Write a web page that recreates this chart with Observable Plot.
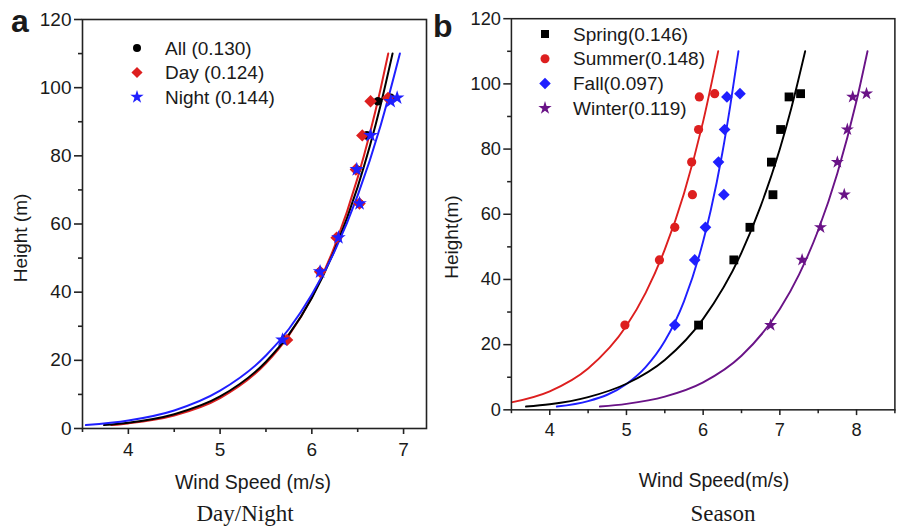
<!DOCTYPE html>
<html>
<head>
<meta charset="utf-8">
<script src="https://cdn.jsdelivr.net/npm/d3@7"></script>
<script src="https://cdn.jsdelivr.net/npm/@observablehq/plot@0.6"></script>
<style>
  body { margin: 0; background: #fff; }
  #wrap { position: relative; width: 904px; height: 527px; overflow: hidden; background: #fff; }
  #left, #right, #overlay { position: absolute; top: 0; }
  #left { left: 0; }
  #right { left: 440px; }
  #overlay { left: 0; pointer-events: none; }
</style>
</head>
<body>
<div id="wrap">
  <div id="left"></div>
  <div id="right"></div>
  <svg id="overlay" width="904" height="527"></svg>
</div>
<script>
// ---------- data ----------
const heights = [26, 46, 56, 66, 76, 86, 96, 97];

// panel a: Day / Night
const allSpeed   = [5.70, 6.09, 6.28, 6.52, 6.49, 6.60, 6.72, 6.86];
const daySpeed   = [5.73, 6.09, 6.27, 6.52, 6.48, 6.55, 6.64, 6.83];
const nightSpeed = [5.68, 6.09, 6.29, 6.52, 6.49, 6.64, 6.86, 6.93];

const allFitSpeed    = [3.735, 4.0, 4.5, 5.0, 5.5, 5.75, 6.0, 6.25, 6.5, 6.75, 6.88];
const allFitHeight   = [1, 1.7, 4.2, 9.4, 19.6, 27.6, 38.3, 52.5, 70.9, 94.9, 110];
const dayFitSpeed    = [3.815, 4.0, 4.5, 5.0, 5.5, 5.75, 6.0, 6.25, 6.5, 6.75, 6.833];
const dayFitHeight   = [1, 1.5, 3.8, 8.9, 19.1, 27.3, 38.5, 53.6, 73.6, 99.7, 110];
const nightFitSpeed  = [3.537, 4.0, 4.5, 5.0, 5.5, 5.75, 6.0, 6.25, 6.5, 6.75, 6.96];
const nightFitHeight = [1, 2.35, 5.3, 11.1, 21.4, 29.2, 39.3, 52.1, 68.4, 88.9, 110];

// panel b: Season
const springSpeed = [5.94, 6.40, 6.61, 6.91, 6.89, 7.01, 7.12, 7.27];
const summerSpeed = [4.98, 5.43, 5.63, 5.86, 5.85, 5.94, 5.95, 6.15];
const fallSpeed   = [5.63, 5.89, 6.03, 6.27, 6.20, 6.28, 6.31, 6.48];
const winterSpeed = [6.88, 7.29, 7.53, 7.84, 7.75, 7.88, 7.95, 8.13];

const springFitSpeed  = [3.69, 4.0, 4.5, 5.0, 5.5, 6.0, 6.5, 6.75, 7.0, 7.15, 7.33];
const springFitHeight = [1, 1.7, 3.9, 8.0, 15.3, 27.9, 48.2, 62.5, 80, 92.6, 110];
const summerFitSpeed  = [3.5, 4.0, 4.5, 5.0, 5.25, 5.5, 5.75, 6.0, 6.196];
const summerFitHeight = [2.3, 5.7, 12.7, 25.8, 35.9, 49.2, 66.4, 88.5, 110];
const fallFitSpeed    = [4.092, 4.5, 5.0, 5.25, 5.5, 5.75, 6.0, 6.1, 6.25, 6.35, 6.46];
const fallFitHeight   = [1, 2.66, 7.9, 13.1, 21.1, 33.3, 51.7, 61.3, 78.8, 92.8, 110];
const winterFitSpeed  = [4.654, 5.0, 5.5, 6.0, 6.5, 7.0, 7.25, 7.5, 7.75, 8.0, 8.143];
const winterFitHeight = [1, 1.83, 4.07, 8.45, 16.6, 30.9, 41.5, 55.1, 72.6, 94.8, 110];

// legends & ticks
const legendA = ["All (0.130)", "Day (0.124)", "Night (0.144)"];
const legendB = ["Spring(0.146)", "Summer(0.148)", "Fall(0.097)", "Winter(0.119)"];
const yTicks = [0, 20, 40, 60, 80, 100, 120];
const yMinor = [10, 30, 50, 70, 90, 110];
const xTicksA = [4, 5, 6, 7];
const xMinorA = [3.5, 4.5, 5.5, 6.5];
const xTicksB = [4, 5, 6, 7, 8];
const xMinorB = [3.5, 4.5, 5.5, 6.5, 7.5, 8.5];

// ---------- helpers ----------
const pts = (xs, ys) => xs.map((x, i) => ({x, y: ys[i]}));
const RED = "#dd1f1f", BLUE = "#1f1fff", PURPLE = "#6a1387", BLACK = "#000";
const AX = "#222";
const font = "'Liberation Sans', Arial, sans-serif";

function axes(xT, xM) {
  return [
    Plot.frame({stroke: AX, strokeWidth: 1.6}),
    Plot.axisX({ticks: xT, tickFormat: d => String(d), tickSize: 6, tickPadding: 8, stroke: AX, strokeWidth: 1.6, label: null, fill: "#1a1a1a"}),
    Plot.axisX({ticks: xM, tickSize: 4, tickFormat: () => "", stroke: AX, strokeWidth: 1.6, label: null}),
    Plot.axisY({ticks: yTicks, tickFormat: d => String(d), tickSize: 8, tickPadding: 3, stroke: AX, strokeWidth: 1.6, label: null, fill: "#1a1a1a"}),
    Plot.axisY({ticks: yMinor, tickSize: 4, tickFormat: () => "", stroke: AX, strokeWidth: 1.6, label: null})
  ];
}

function series(speed, color, symbol, r) {
  return Plot.dot(pts(speed, heights), {x: "x", y: "y", symbol: () => symbol, r, fill: color, stroke: "none"});
}
function fit(xs, ys, color) {
  return Plot.line(pts(xs, ys), {x: "x", y: "y", stroke: color, strokeWidth: 2, curve: "monotone-x", clip: true});
}

// ---------- panel a ----------
const plotA = Plot.plot({
  width: 440, height: 527,
  marginLeft: 82, marginRight: 14, marginTop: 19, marginBottom: 99,
  x: {domain: [3.5, 7.25]},
  y: {domain: [0, 120]},
  style: {fontFamily: font, fontSize: "19px", background: "transparent", overflow: "visible"},
  marks: [
    fit(dayFitSpeed, dayFitHeight, RED),
    fit(allFitSpeed, allFitHeight, BLACK),
    fit(nightFitSpeed, nightFitHeight, BLUE),
    series(allSpeed, BLACK, "circle", 4.3),
    series(daySpeed, RED, "diamond2", 5.6),
    series(nightSpeed, BLUE, "star", 4.6),
    ...axes(xTicksA, xMinorA)
  ]
});
document.getElementById("left").appendChild(plotA);

// ---------- panel b ----------
const plotB = Plot.plot({
  width: 484, height: 527,
  marginLeft: 74, marginRight: 10, marginTop: 19, marginBottom: 100,
  x: {domain: [3.5, 8.5]},
  y: {domain: [0, 120]},
  style: {fontFamily: font, fontSize: "19px", background: "transparent", overflow: "visible"},
  marks: [
    fit(summerFitSpeed, summerFitHeight, RED),
    fit(fallFitSpeed, fallFitHeight, BLUE),
    fit(springFitSpeed, springFitHeight, BLACK),
    fit(winterFitSpeed, winterFitHeight, PURPLE),
    series(springSpeed, BLACK, "square", 5.2),
    series(summerSpeed, RED, "circle", 4.8),
    series(fallSpeed, BLUE, "diamond2", 5.5),
    series(winterSpeed, PURPLE, "star", 4.3),
    ...axes(xTicksB, xMinorB)
  ]
});
document.getElementById("right").appendChild(plotB);

// ---------- overlay texts & legends ----------
const ov = d3.select("#overlay").style("font-family", font).style("fill", "#1a1a1a");
function txt(s, x, y, opts = {}) {
  const t = ov.append("text").attr("x", x).attr("y", y).text(s)
    .attr("font-size", opts.size || 19)
    .attr("text-anchor", opts.anchor || "start");
  if (opts.weight) t.attr("font-weight", opts.weight);
  if (opts.family) t.attr("font-family", opts.family);
  if (opts.rotate) t.attr("transform", `rotate(${opts.rotate},${x},${y})`);
  if (opts.baseline) t.attr("dominant-baseline", opts.baseline);
  return t;
}
txt("a", 11, 32, {size: 32, weight: "bold"});
txt("b", 433, 37, {size: 32, weight: "bold"});
txt("Height (m)", 20, 238, {size: 19, anchor: "middle", rotate: -90, baseline: "central"});
txt("Height(m)", 451, 237, {size: 19, anchor: "middle", rotate: -90, baseline: "central"});
txt("Wind Speed (m/s)", 253, 489, {size: 19.5, anchor: "middle"});
txt("Wind Speed(m/s)", 714, 487, {size: 19.5, anchor: "middle"});
txt("Day/Night", 245, 521, {size: 23, anchor: "middle", family: "'Liberation Serif', 'Times New Roman', serif"});
txt("Season", 723, 521, {size: 23, anchor: "middle", family: "'Liberation Serif', 'Times New Roman', serif"});

const symMap = {circle: d3.symbolCircle, diamond2: d3.symbolDiamond2, star: d3.symbolStar, square: d3.symbolSquare};
function legend(items, colors, symbols, sizes, mx, tx, y0, dy) {
  items.forEach((s, i) => {
    const y = y0 + i * dy;
    const r = sizes[i];
    ov.append("path")
      .attr("d", d3.symbol(symMap[symbols[i]], r * r * Math.PI)())
      .attr("transform", `translate(${mx},${y})`)
      .attr("fill", colors[i]);
    txt(s, tx, y, {size: 19, baseline: "central"});
  });
}
legend(legendA, [BLACK, RED, BLUE], ["circle", "diamond2", "star"], [4, 5, 4.2], 137, 165, 48, 24.5);
legend(legendB, [BLACK, RED, BLUE, PURPLE], ["square", "circle", "diamond2", "star"], [4.5, 4.5, 5.2, 4.2], 545, 573, 34, 24.7);
</script>
</body>
</html>
